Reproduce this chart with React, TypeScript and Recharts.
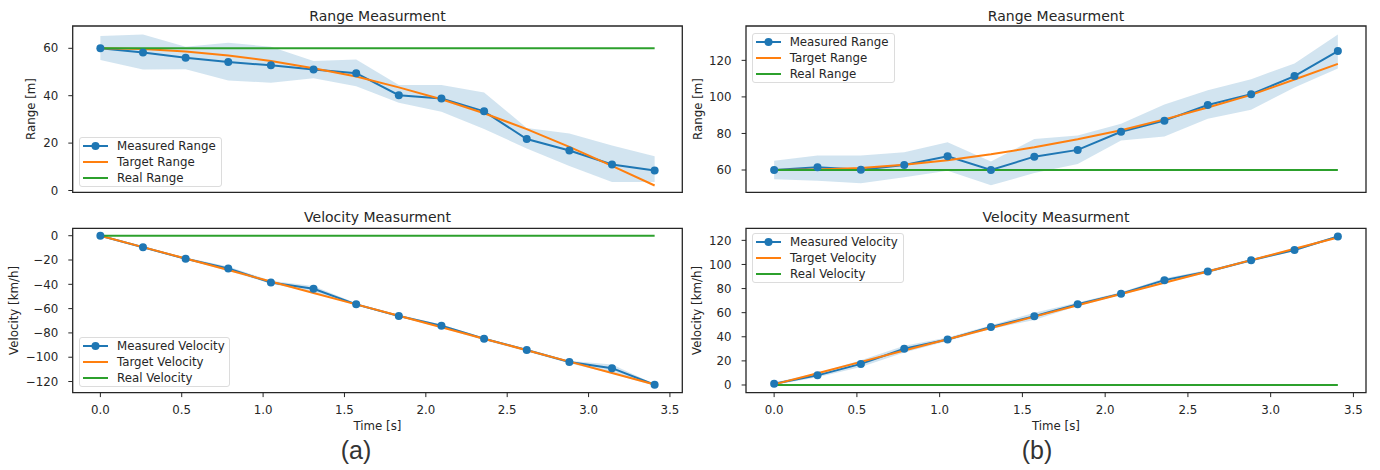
import React from 'react';
import { ComposedChart, Line, Area, XAxis, YAxis, ReferenceArea, Legend } from 'recharts';

// ---------- data ----------
const timeS = [0, 0.262, 0.524, 0.786, 1.048, 1.31, 1.572, 1.834, 2.096, 2.358, 2.62, 2.882, 3.144, 3.406];

const measuredRangeA = [60, 58.2, 56.0, 54.2, 52.8, 51.1, 49.5, 40.2, 38.8, 33.4, 21.7, 16.9, 11.0, 8.4];
const targetRangeA = [60, 59.7, 58.7, 57.0, 54.6, 51.6, 48.1, 43.5, 38.5, 32.6, 25.9, 18.4, 10.4, 2.1];
const realRangeA = [60, 60, 60, 60, 60, 60, 60, 60, 60, 60, 60, 60, 60, 60];
const lowRangeA = [55.1, 51.1, 51.2, 46.4, 45.5, 47.4, 44.0, 37.0, 33.2, 26.0, 17.7, 10.3, 3.6, 3.6];
const highRangeA = [65.2, 65.8, 60.7, 62.3, 60.7, 54.6, 55.3, 44.5, 44.5, 41.4, 26.4, 24.0, 19.0, 14.5];

const measuredVelA = [0, -9.5, -19.0, -27.0, -38.5, -43.7, -56.5, -66.0, -74.0, -84.8, -94.0, -104.0, -109.0, -122.7];
const targetVelA = [0, -9.4, -18.8, -28.2, -37.7, -47.1, -56.5, -65.9, -75.3, -84.8, -94.2, -103.6, -113.0, -122.4];
const realVelA = [0, 0, 0, 0, 0, 0, 0, 0, 0, 0, 0, 0, 0, 0];
const lowVelA = [-0.5, -10.2, -19.8, -28.8, -39.5, -46.5, -57.5, -67.0, -75.8, -86.0, -95.2, -105.0, -113.5, -123.5];
const highVelA = [0.5, -8.8, -18.0, -25.3, -37.0, -41.3, -55.5, -65.0, -73.0, -84.0, -93.0, -103.0, -106.0, -122.0];

const measuredRangeB = [60, 61.5, 60.2, 62.8, 67.5, 60.0, 67.3, 71.0, 80.9, 87.0, 95.6, 101.5, 111.4, 125.1];
const targetRangeB = [60, 60.3, 61.1, 62.9, 65.4, 68.6, 72.4, 76.8, 81.8, 87.7, 94.2, 101.1, 109.5, 118.1];
const realRangeB = [60, 60, 60, 60, 60, 60, 60, 60, 60, 60, 60, 60, 60, 60];
const lowRangeB = [55.0, 54.1, 52.8, 56.0, 59.6, 51.7, 58.3, 63.3, 76.1, 78.3, 88.0, 93.0, 105.1, 115.5];
const highRangeB = [65.1, 67.9, 67.9, 69.7, 75.2, 64.6, 77.0, 78.9, 85.3, 95.9, 103.7, 109.7, 118.3, 134.1];

const measuredVelB = [1.0, 8.0, 17.5, 30.0, 37.8, 48.2, 57.0, 67.0, 75.8, 87.0, 94.2, 103.5, 112.0, 123.2];
const targetVelB = [0.5, 9.8, 19.2, 28.6, 38.0, 47.3, 56.7, 66.1, 75.5, 84.8, 94.2, 103.6, 113.0, 122.3];
const realVelB = [0, 0, 0, 0, 0, 0, 0, 0, 0, 0, 0, 0, 0, 0];
const lowVelB = [0, 6.5, 15.0, 27.0, 36.5, 46.5, 54.0, 65.5, 74.5, 85.0, 93.0, 102.5, 111.0, 122.5];
const highVelB = [2.0, 10.0, 20.5, 32.5, 39.5, 49.5, 60.0, 68.5, 77.0, 88.5, 95.5, 104.5, 113.5, 124.0];

const xTicks = [0, 0.5, 1, 1.5, 2, 2.5, 3, 3.5];
const rangeTicksA = [0, 20, 40, 60];
const velTicksA = [-120, -100, -80, -60, -40, -20, 0];
const rangeTicksB = [60, 80, 100, 120];
const velTicksB = [0, 20, 40, 60, 80, 100, 120];

const rangeNames = ['Measured Range', 'Target Range', 'Real Range'];
const velNames = ['Measured Velocity', 'Target Velocity', 'Real Velocity'];

const panelTitles = ['Range Measurment', 'Velocity Measurment'];
const xLabel = 'Time [s]';
const yLabels = ['Range [m]', 'Velocity [km/h]'];
const subLabels = ['(a)', '(b)'];

// ---------- styles ----------
const BLUE = '#1f77b4';
const ORANGE = '#ff7f0e';
const GREEN = '#2ca02c';
const INK = '#262626';
const FONT = 'DejaVu Sans';
const FS = 11.8;
const X_DOMAIN: [number, number] = [-0.17, 3.576];

function build(measured: number[], target: number[], real: number[], low: number[], high: number[]) {
  return timeS.map((t, i) => ({
    t,
    measured: measured[i],
    target: target[i],
    real: real[i],
    band: [low[i], high[i]],
  }));
}

const fmtY = (v: number) => String(v).replace('-', '\u2212');
const fmtX = (v: number) => v.toFixed(1);

function LegendBox({ names, width }: { names: string[]; width: number }) {
  const colors = [BLUE, ORANGE, GREEN];
  return (
    <div
      style={{
        position: 'relative',
        width,
        height: 50,
        boxSizing: 'border-box',
        border: '1px solid #dcdcdc',
        borderRadius: 3,
        background: 'rgba(255,255,255,0.8)',
        fontFamily: FONT,
        fontSize: FS,
        color: INK,
      }}
    >
      {names.map((n, i) => (
        <div key={n} style={{ position: 'absolute', left: 0, top: 0 + i * 16, height: 16, width: '100%' }}>
          <svg width={32} height={16} style={{ position: 'absolute', left: 3, top: 0 }}>
            <line x1={0} y1={8} x2={25} y2={8} stroke={colors[i]} strokeWidth={2} />
            {i === 0 && <circle cx={12.5} cy={8} r={4} fill={colors[i]} />}
          </svg>
          <span style={{ position: 'absolute', left: 37, top: 0, lineHeight: '16px', whiteSpace: 'nowrap' }}>{n}</span>
        </div>
      ))}
    </div>
  );
}

type PanelProps = {
  left: number;
  top: number;
  height: number;
  marginTop: number;
  marginRight: number;
  yAxisWidth: number;
  xAxisHeight: number;
  showXLabels: boolean;
  yDomain: [number, number];
  yTicks: number[];
  data: any[];
  names: string[];
  legendLeft: number;
  legendTop: number;
  legendWidth: number;
};

function Panel(p: PanelProps) {
  return (
    <div style={{ position: 'absolute', left: p.left, top: p.top }}>
      <ComposedChart
        width={690}
        height={p.height}
        data={p.data}
        margin={{ top: p.marginTop, right: p.marginRight, bottom: 0, left: 0 }}
      >
        <XAxis
          dataKey="t"
          type="number"
          domain={X_DOMAIN}
          ticks={xTicks}
          allowDataOverflow
          height={p.xAxisHeight}
          axisLine={false}
          tickSize={4.4}
          tickMargin={9}
          tickLine={{ stroke: INK, strokeWidth: 1 }}
          tick={p.showXLabels ? { fontSize: FS, fill: INK, fontFamily: FONT } : false}
          tickFormatter={fmtX}
          interval={0}
        />
        <YAxis
          type="number"
          domain={p.yDomain}
          ticks={p.yTicks}
          allowDataOverflow
          width={p.yAxisWidth}
          axisLine={false}
          tickSize={4.4}
          tickMargin={10}
          tickLine={{ stroke: INK, strokeWidth: 1 }}
          tick={{ fontSize: FS, fill: INK, fontFamily: FONT }}
          tickFormatter={fmtY}
          interval={0}
        />
        <Area
          dataKey="band"
          type="linear"
          stroke="none"
          fill={BLUE}
          fillOpacity={0.2}
          isAnimationActive={false}
          activeDot={false}
          legendType="none"
        />
        <Line
          dataKey="measured"
          type="linear"
          stroke={BLUE}
          strokeWidth={2}
          dot={{ r: 4, fill: BLUE, stroke: BLUE, strokeWidth: 0 }}
          activeDot={false}
          isAnimationActive={false}
        />
        <Line dataKey="target" type="linear" stroke={ORANGE} strokeWidth={2} dot={false} activeDot={false} isAnimationActive={false} />
        <Line dataKey="real" type="linear" stroke={GREEN} strokeWidth={2} dot={false} activeDot={false} isAnimationActive={false} />
        <ReferenceArea
          x1={X_DOMAIN[0]}
          x2={X_DOMAIN[1]}
          y1={p.yDomain[0]}
          y2={p.yDomain[1]}
          fill="none"
          fillOpacity={0}
          stroke={INK}
          strokeWidth={1.3}
          ifOverflow="visible"
        />
        <Legend
          layout="vertical"
          align="center"
          verticalAlign="middle"
          wrapperStyle={{ left: p.legendLeft, top: p.legendTop, width: p.legendWidth }}
          content={() => <LegendBox names={p.names} width={p.legendWidth} />}
        />
      </ComposedChart>
    </div>
  );
}

export default function App() {
  const dataRA = build(measuredRangeA, targetRangeA, realRangeA, lowRangeA, highRangeA);
  const dataVA = build(measuredVelA, targetVelA, realVelA, lowVelA, highVelA);
  const dataRB = build(measuredRangeB, targetRangeB, realRangeB, lowRangeB, highRangeB);
  const dataVB = build(measuredVelB, targetVelB, realVelB, lowVelB, highVelB);

  return (
    <div style={{ position: 'absolute', left: 0, top: 0, width: 1380, height: 470, background: '#fff', fontFamily: FONT }}>
      <Panel
        left={0} top={0} height={200} marginTop={26} marginRight={7.7} yAxisWidth={72.7} xAxisHeight={7.7}
        showXLabels={false} yDomain={[-0.76, 69.41]} yTicks={rangeTicksA} data={dataRA} names={rangeNames}
        legendLeft={79} legendTop={136.5} legendWidth={143}
      />
      <Panel
        left={0} top={200} height={240} marginTop={28.3} marginRight={7.7} yAxisWidth={72.7} xAxisHeight={47.3}
        showXLabels={true} yDomain={[-129.2, 6.1]} yTicks={velTicksA} data={dataVA} names={velNames}
        legendLeft={79} legendTop={136.5} legendWidth={151}
      />
      <Panel
        left={690} top={0} height={200} marginTop={26} marginRight={14} yAxisWidth={56} xAxisHeight={7.7}
        showXLabels={false} yDomain={[47.8, 138.8]} yTicks={rangeTicksB} data={dataRB} names={rangeNames}
        legendLeft={61.7} legendTop={32.7} legendWidth={143}
      />
      <Panel
        left={690} top={200} height={240} marginTop={28.3} marginRight={14} yAxisWidth={56} xAxisHeight={47.3}
        showXLabels={true} yDomain={[-6.4, 130]} yTicks={velTicksB} data={dataVB} names={velNames}
        legendLeft={62} legendTop={33.3} legendWidth={152}
      />
      <svg width={1380} height={470} style={{ position: 'absolute', left: 0, top: 0, pointerEvents: 'none' }}>
        <g fontFamily={FONT} fill={INK}>
          <text x={377.5} y={20.6} fontSize={14} textAnchor="middle">{panelTitles[0]}</text>
          <text x={377.5} y={221.5} fontSize={14} textAnchor="middle">{panelTitles[1]}</text>
          <text x={1056} y={20.6} fontSize={14} textAnchor="middle">{panelTitles[0]}</text>
          <text x={1056} y={221.5} fontSize={14} textAnchor="middle">{panelTitles[1]}</text>

          <text x={377.5} y={429.5} fontSize={FS} textAnchor="middle">{xLabel}</text>
          <text x={1056} y={429.5} fontSize={FS} textAnchor="middle">{xLabel}</text>

          <text transform="translate(35,109) rotate(-90)" fontSize={FS} textAnchor="middle">{yLabels[0]}</text>
          <text transform="translate(18,310.5) rotate(-90)" fontSize={FS} textAnchor="middle">{yLabels[1]}</text>
          <text transform="translate(702,109) rotate(-90)" fontSize={FS} textAnchor="middle">{yLabels[0]}</text>
          <text transform="translate(701,310.5) rotate(-90)" fontSize={FS} textAnchor="middle">{yLabels[1]}</text>
        </g>
        <g fontFamily="Liberation Sans" fill="#333">
          <text x={356} y={459} fontSize={25} textAnchor="middle">{subLabels[0]}</text>
          <text x={1037} y={459} fontSize={25} textAnchor="middle">{subLabels[1]}</text>
        </g>
      </svg>
    </div>
  );
}
